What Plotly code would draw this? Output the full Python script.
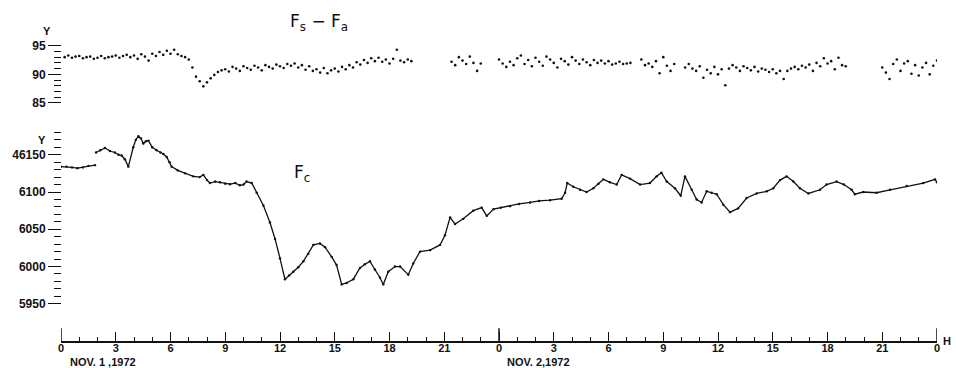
import plotly.graph_objects as go

# ---------------- data ----------------
# Fs - Fa (gamma), sampled every 0.2 h, in segments (start hour, values)
FSFA_STEP = 0.2
fsfa_a_start = 0.2
fsfa_a = [93.0, 93.3, 92.9, 93.1, 93.2, 92.8, 93.0, 93.1, 92.7, 92.9, 93.2, 92.8,
          93.0, 93.1, 93.3, 92.9, 93.2, 93.4, 93.0, 93.3, 92.7, 93.5, 93.1, 92.4,
          93.6, 93.2, 93.9, 93.4, 94.1, 93.6, 94.3, 93.5, 93.2, 93.0, 92.6, 91.2]
fsfa_b_start = 7.4
fsfa_b = [89.6, 88.8, 87.9, 88.6, 89.3, 89.9, 90.4, 90.7, 90.9, 90.5, 91.3, 91.0,
          90.6, 91.4, 91.1, 90.8, 91.5, 91.2, 90.7, 91.6, 91.3, 91.0, 91.7, 91.4,
          91.1, 91.8, 91.5, 91.9, 91.2, 91.6, 90.8, 91.4, 90.6, 90.9, 90.3, 91.1,
          90.2, 90.7, 91.0, 90.5, 91.3, 90.9, 91.6, 91.2, 92.1, 91.7, 92.5, 92.0,
          92.8, 92.3, 92.9, 92.2, 92.6, 91.9, 92.7, 94.3, 92.4, 92.1, 92.6, 92.3]
fsfa_c_start = 21.4
fsfa_c = [92.2, 91.6, 93.0, 92.4, 91.8, 93.1, 92.0, 90.6, 91.9]
fsfa_d_start = 24.0
fsfa_d = [92.6, 91.9, 91.3, 92.2, 91.6, 92.8, 93.3, 91.8, 92.5, 91.4, 92.9, 92.2,
          91.5, 93.1, 92.6, 92.0, 91.2, 92.7, 92.3, 91.7, 93.0, 92.4, 91.8, 92.6,
          92.1, 91.6, 92.5, 92.0, 92.4, 91.9, 92.3, 91.7, 91.9, 92.2, 91.8, 91.9, 92.0]
fsfa_e_start = 31.8
fsfa_e = [92.6, 91.6, 91.9, 91.3, 92.3, 90.2, 93.0, 91.5, 90.6, 91.8]
fsfa_f_start = 34.2
fsfa_f = [91.2, 91.8, 91.0, 90.6, 91.4, 89.4, 90.8, 90.2, 91.3, 90.0, 90.9, 88.1,
          91.0, 91.6, 91.2, 90.6, 91.4, 91.1, 90.7, 91.3, 90.5, 91.0, 90.8, 90.4,
          90.9, 90.2, 90.6, 89.2, 90.6, 91.0, 91.3, 90.9, 91.5, 91.2, 91.7, 90.6,
          92.0, 91.4, 92.8, 91.9, 92.3, 90.9, 92.9, 91.6, 91.4]
fsfa_g_start = 45.0
fsfa_g = [91.2, 90.3, 89.2, 91.8, 92.6, 90.6, 91.9, 92.3, 90.1, 91.6, 89.8, 91.2,
          92.0, 90.0, 91.5, 92.4]

# Fc (gamma) vs hours from 0h UT, Nov 1 1972 (None = break in record)
fc_hours = [0.0, 0.3, 0.6, 0.9, 1.2, 1.5, 1.86, None,
            1.92, 2.15, 2.41, 2.68, 2.95, 3.15, 3.32, 3.5, 3.69, 3.96, 4.1, 4.24,
            4.38, 4.51, 4.65, 4.79, 5.0, 5.24, 5.45, 5.61, 5.79, 5.95, 6.06, 6.4,
            6.8, 7.25, 7.6, 7.8, 8.0, 8.16, 8.45, 8.71, 9.0, 9.26, 9.55, 9.8,
            10.0, 10.17, 10.45, 10.72, 11.09, 11.45, 11.73, 12.0, 12.27, 12.5,
            12.73, 13.0, 13.28, 13.55, 13.83, 14.19, 14.47, 14.83, 15.1, 15.38,
            15.65, 16.02, 16.38, 16.65, 16.93, 17.2, 17.48, 17.66, 17.93, 18.3,
            18.58, 19.03, 19.3, 19.67, 20.22, 20.77, 21.04, 21.32, 21.59, 22.04,
            22.59, 23.05, 23.33, 23.7, 24.1, 24.6, 25.1, 25.7, 26.2, 26.8, 27.43,
            27.62, 27.74, 28.07, 28.44, 28.8, 29.17, 29.45, 29.72, 30.08, 30.45,
            30.72, 31.18, 31.73, 32.27, 32.64, 32.9, 33.19, 33.64, 33.96, 34.19,
            34.56, 34.83, 35.1, 35.38, 35.65, 35.93, 36.29, 36.66, 37.1, 37.57,
            38.12, 38.67, 39.03, 39.4, 39.76, 40.13, 40.49, 40.95, 41.59, 41.95,
            42.5, 42.9, 43.32, 43.5, 43.96, 44.69, 45.43, 46.34, 47.25, 47.89, 48.0]
fc_values = [6134, 6134, 6133, 6132, 6133, 6135, 6136, None,
             6153, 6156, 6159, 6155, 6153, 6150, 6149, 6144, 6134, 6160, 6170, 6175,
             6172, 6165, 6168, 6169, 6160, 6156, 6153, 6151, 6147, 6140, 6134, 6129,
             6125, 6121, 6120, 6123, 6116, 6112, 6114, 6113, 6111, 6110.5, 6112, 6109,
             6110, 6114, 6112, 6099, 6082, 6059, 6037, 6011, 5983, 5988,
             5993, 5999, 6007, 6017, 6029, 6031, 6026, 6013, 6002, 5976,
             5978, 5983, 5998, 6003, 6007, 5996, 5985, 5976, 5993, 6000,
             6000, 5989, 6004, 6020, 6022, 6029, 6042, 6066, 6057, 6064,
             6075, 6079, 6068, 6077, 6079, 6081, 6084, 6086, 6088, 6089, 6091,
             6099, 6112, 6107, 6103, 6100, 6105, 6111, 6117, 6113, 6110,
             6123, 6118, 6110, 6112, 6121, 6126, 6114, 6105, 6095, 6121,
             6103, 6090, 6086, 6101, 6099, 6097, 6083, 6073, 6078, 6092,
             6098, 6101, 6105, 6116, 6121, 6114, 6105, 6098, 6103, 6110,
             6114, 6110, 6103, 6097, 6100, 6099, 6103, 6108, 6112, 6117, 6113]

# axis labels
x_tick_hours = [0, 3, 6, 9, 12, 15, 18, 21, 24, 27, 30, 33, 36, 39, 42, 45, 48]
x_tick_text = ["0", "3", "6", "9", "12", "15", "18", "21",
               "0", "3", "6", "9", "12", "15", "18", "21", "0"]
day_boundaries = [0, 24, 48]
fsfa_tick_vals = [85, 90, 95]
fsfa_tick_text = ["85", "90", "95"]
fc_tick_vals = [5950, 6000, 6050, 6100, 6150]
fc_tick_text = ["5950", "6000", "6050", "6100", "46150"]

# ---------------- figure ----------------
FONT = "Liberation Sans, Arial, sans-serif"
INK = "#111111"

fig = go.Figure()

segments = [(fsfa_a_start, fsfa_a), (fsfa_b_start, fsfa_b), (fsfa_c_start, fsfa_c),
            (fsfa_d_start, fsfa_d), (fsfa_e_start, fsfa_e), (fsfa_f_start, fsfa_f),
            (fsfa_g_start, fsfa_g)]
for start, vals in segments:
    fig.add_trace(go.Scatter(
        x=[round(start + i * FSFA_STEP, 2) for i in range(len(vals))], y=vals,
        mode="markers", marker=dict(size=2.6, color=INK),
        xaxis="x", yaxis="y2", showlegend=False, hoverinfo="x+y"))

fig.add_trace(go.Scatter(
    x=fc_hours, y=fc_values, mode="lines+markers",
    line=dict(color=INK, width=1.3), marker=dict(size=2.4, color=INK),
    connectgaps=False, xaxis="x", yaxis="y", showlegend=False))

# plot area: left 61 px .. right 937 px, top 0 .. bottom 342 px (of 956x368)
H_AREA = 342.0
def frac(py):
    return 1 - py / H_AREA

tickfont = dict(family=FONT, size=12, color=INK, weight="bold")

fig.update_layout(
    width=956, height=368,
    margin=dict(l=61, r=19, t=0, b=26, pad=0),
    paper_bgcolor="white", plot_bgcolor="white",
    xaxis=dict(range=[0, 48], anchor="free", position=0,
               showline=True, linecolor=INK, linewidth=1.5, mirror=False,
               showgrid=False, zeroline=False,
               tickmode="array", tickvals=x_tick_hours, ticktext=x_tick_text,
               ticks="inside", ticklen=9, tickwidth=1.3, tickcolor=INK,
               ticklabelstandoff=-4,
               tickfont=dict(family=FONT, size=11, color=INK, weight="bold"),
               minor=dict(dtick=1, ticks="inside", ticklen=4, tickwidth=1, tickcolor=INK)),
    yaxis=dict(range=[5950, 6180], domain=[frac(303), frac(128)],
               anchor="free", position=0, showline=False, showgrid=False, zeroline=False,
               tickmode="array", tickvals=fc_tick_vals, ticktext=fc_tick_text,
               ticks="outside", ticklen=13, tickwidth=1.3, tickcolor=INK,
               tickfont=tickfont,
               minor=dict(dtick=10, tick0=5950, ticks="outside", ticklen=7, tickwidth=1.2, tickcolor=INK)),
    yaxis2=dict(range=[85, 95], domain=[frac(98), frac(39.5)],
                anchor="free", position=0, showline=False, showgrid=False, zeroline=False,
                tickmode="array", tickvals=fsfa_tick_vals, ticktext=fsfa_tick_text,
                ticks="outside", ticklen=13, tickwidth=1.3, tickcolor=INK,
                tickfont=tickfont,
                minor=dict(dtick=1, tick0=85, ticks="outside", ticklen=7, tickwidth=1.2, tickcolor=INK)),
)

# day boundary marks (taller ticks on the time axis)
for h in day_boundaries:
    fig.add_shape(type="line", xref="x", yref="paper", x0=h, x1=h,
                  y0=0, y1=14 / H_AREA, line=dict(color=INK, width=1.5))

ann = [
    dict(text="F<sub>s</sub> − F<sub>a</sub>", x=288, y=16, size=17),
    dict(text="F<sub>c</sub>", x=292, y=170, size=17),
]
for a in ann:
    fig.add_annotation(text=a["text"], xref="paper", yref="paper",
                       x=(a["x"] - 61) / 876, y=frac(a["y"]),
                       xanchor="left", yanchor="middle", showarrow=False,
                       font=dict(family="DejaVu Sans, sans-serif", size=a["size"], color=INK))

bold = dict(family=FONT, size=11, color=INK, weight="bold")
labels = [
    ("Y", 47, 25, "center"),
    ("Y", 42, 136, "center"),
    ("H", 941, 341, "left"),
    ("NOV. 1 ,1972", 68, 362, "left"),
    ("NOV. 2,1972", 505, 362, "left"),
]
for t, px, py, xa in labels:
    fig.add_annotation(text=t, xref="paper", yref="paper",
                       x=(px - 61) / 876, y=frac(py), xanchor=xa, yanchor="middle",
                       showarrow=False, font=bold)

fig.write_html("out.html")
